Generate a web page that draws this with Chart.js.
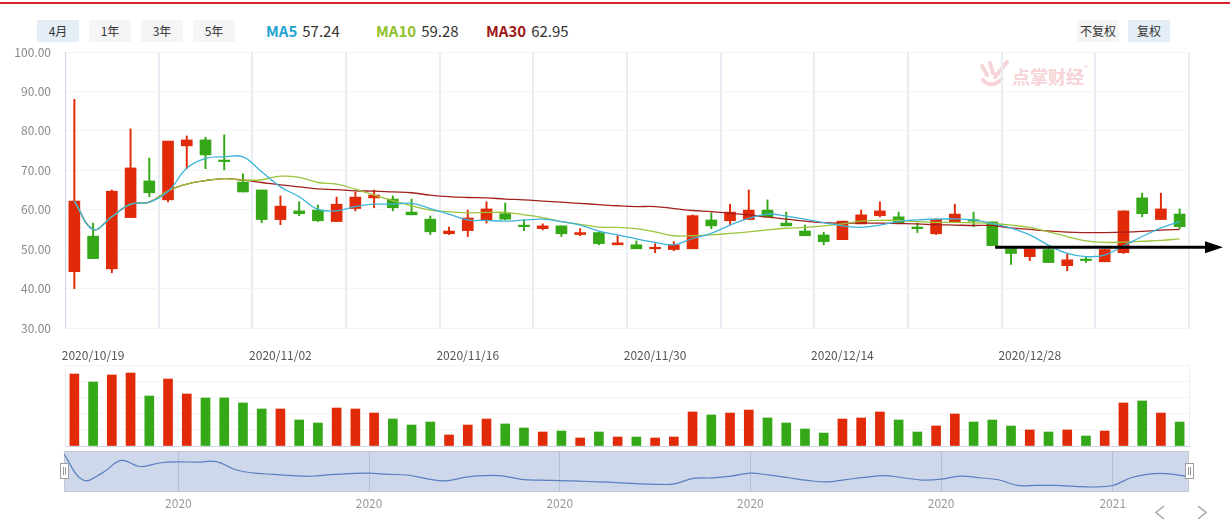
<!DOCTYPE html>
<html>
<head>
<meta charset="utf-8">
<script src="https://cdn.jsdelivr.net/npm/chart.js@4.4.1/dist/chart.umd.min.js"></script>
<style>
  body { margin:0; width:1230px; height:521px; overflow:hidden; background:#fff; position:relative;
         font-family:"Microsoft YaHei","Noto Sans CJK SC",sans-serif; }
  .topline { position:absolute; left:0; top:2px; width:1230px; height:2px; background:#d8232a; }
  .btn { position:absolute; top:20px; width:42px; height:22px; line-height:22px; text-align:center;
         font-size:12px; color:#333; background:#f5f5f5; }
  .btn.on { background:#e5edf7; }
  .ma { position:absolute; top:21px; font-size:15px; line-height:20px; color:#333; white-space:nowrap; }
  .ma b { font-weight:bold; margin-right:5px; }
  .wm { position:absolute; left:1012px; top:63px; font-size:18px; font-weight:bold; color:#f6d3d6; letter-spacing:0px; }
  .wm sup { font-size:8px; font-weight:normal; position:relative; top:-6px; }
  canvas { position:absolute; left:0; }
  .handle { position:absolute; top:463px; width:7px; height:14px; background:#fff; border:1px solid #a0a0a0; }
  .handle:after { content:""; position:absolute; left:2px; top:3px; width:1px; height:8px; border-left:1px solid #999; border-right:1px solid #999; }
</style>
</head>
<body>
<div class="topline"></div>
<div class="btn on" style="left:37px">4月</div>
<div class="btn" style="left:89px">1年</div>
<div class="btn" style="left:141px">3年</div>
<div class="btn" style="left:193px">5年</div>
<div id="legend"></div>
<div class="btn" style="left:1077px">不复权</div>
<div class="btn on" style="left:1128px">复权</div>

<svg style="position:absolute;left:978px;top:58px" width="36" height="32">
  <g fill="none" stroke="#f6d3d6" stroke-width="4" stroke-linecap="round">
    <path d="M4 8 L9 17"/><path d="M12 5 L15 15"/><path d="M29 4 L17 19"/><path d="M5 22 Q13 31 24 21"/>
  </g>
</svg>
<div class="wm">点掌财经<sup>®</sup></div>

<canvas id="main" width="1230" height="330" style="top:40px"></canvas>
<canvas id="vol" width="1230" height="90" style="top:360px"></canvas>
<canvas id="zoom" width="1230" height="73" style="top:448px"></canvas>
<div class="handle" style="left:60px"></div>
<div class="handle" style="left:1185px"></div>

<svg style="position:absolute;left:1150px;top:504px" width="70" height="17">
  <g fill="none" stroke="#aaa" stroke-width="1.6">
    <path d="M14 2 L6 8.5 L14 15"/><path d="M48 2 L56 8.5 L48 15"/>
  </g>
</svg>

<script>
const dates = [
  '2020/10/16','2020/10/19','2020/10/20','2020/10/21','2020/10/22','2020/10/23',
  '2020/10/26','2020/10/27','2020/10/28','2020/10/29','2020/10/30',
  '2020/11/02','2020/11/03','2020/11/04','2020/11/05','2020/11/06',
  '2020/11/09','2020/11/10','2020/11/11','2020/11/12','2020/11/13',
  '2020/11/16','2020/11/17','2020/11/18','2020/11/19','2020/11/20',
  '2020/11/23','2020/11/24','2020/11/25','2020/11/26','2020/11/27',
  '2020/11/30','2020/12/01','2020/12/02','2020/12/03','2020/12/04',
  '2020/12/07','2020/12/08','2020/12/09','2020/12/10','2020/12/11',
  '2020/12/14','2020/12/15','2020/12/16','2020/12/17','2020/12/18',
  '2020/12/21','2020/12/22','2020/12/23','2020/12/24','2020/12/25',
  '2020/12/28','2020/12/29','2020/12/30','2020/12/31',
  '2021/01/04','2021/01/05','2021/01/06','2021/01/07','2021/01/08'
];

const open  = [44.3,53.3,45.0,58.0,67.3,62.5,76.2,77.7,72.6,67.0, 65.0,57.5,59.7,59.9,57.0,60.3,63.0,62.7,59.4,57.6,
               53.9,54.7,57.4,59.0,56.1,55.2,55.9,53.7,54.2,51.1, 51.1,50.1,49.9,50.1,57.4,57.2,57.5,59.9,56.6,54.6,
               53.6,52.4,56.4,58.5,58.2,55.6,53.9,56.9,57.4,56.9, 50.1,48.1,49.9,45.8,47.3,46.8,49.1,63.0,57.5,58.9];
const close = [62.2,47.6,64.7,70.6,64.3,77.4,77.7,73.9,72.2,64.5, 57.5,60.9,59.0,57.2,61.4,63.2,63.7,60.5,58.7,54.4,
               54.6,57.9,60.2,57.6,55.7,55.9,53.9,54.2,51.4,51.6, 50.1,50.4,51.1,58.5,55.9,59.4,59.9,58.2,55.9,53.4,
               51.9,57.1,58.7,59.7,56.7,55.2,57.6,58.9,57.1,50.9, 48.9,50.1,46.6,47.3,47.1,49.9,59.7,59.0,60.2,55.7];
const low   = [40.0,47.6,44.0,58.0,63.3,62.0,70.4,70.4,70.1,64.5, 56.7,56.2,58.5,57.0,57.0,59.7,60.5,59.7,58.7,53.7,
               53.7,53.2,56.6,57.4,54.7,54.9,53.2,53.4,51.1,51.1, 50.1,49.1,49.6,50.1,55.2,56.2,57.5,58.2,55.9,53.4,
               51.1,52.4,56.4,58.2,56.7,54.2,53.7,56.9,55.7,50.9, 46.1,47.1,46.6,44.5,46.6,46.8,48.9,58.2,57.5,55.2];
const high  = [88.0,56.6,65.0,80.5,73.1,77.4,78.7,78.4,79.0,69.1, 65.0,63.5,62.0,61.2,63.2,64.5,65.0,63.5,62.7,58.4,
               55.6,59.9,62.0,61.7,57.4,56.4,55.9,55.2,54.4,53.4, 52.1,51.4,51.9,58.7,59.2,61.4,65.0,62.5,59.4,56.1,
               54.3,57.1,59.9,62.0,59.4,56.6,57.6,61.4,59.4,56.9, 50.1,50.1,50.1,48.9,48.1,49.9,59.7,64.2,64.2,60.2];

const ma5  = [62.2,55.0,58.2,61.4,61.9,64.6,70.5,73.0,73.4,73.4, 69.6,65.8,63.3,60.1,59.7,60.8,61.4,61.4,61.6,60.3,
              58.9,57.4,57.3,57.1,57.4,57.6,57.0,56.1,54.6,53.6, 52.6,51.7,51.1,52.7,54.0,56.1,57.8,58.9,58.4,57.6,
              56.7,55.9,55.5,56.1,57.0,57.4,57.6,57.7,57.4,56.5, 55.3,53.6,51.0,48.9,48.1,48.5,50.8,53.2,55.4,57.0];
const ma10 = [62.2,55.0,58.2,61.4,61.9,64.8,66.5,67.4,67.9,67.5, 67.6,68.5,68.2,66.9,66.5,65.2,63.7,62.3,61.0,59.9,
              59.5,59.2,59.3,59.3,58.7,58.0,57.0,56.3,55.6,55.5, 55.2,54.4,53.4,53.4,53.6,54.0,54.4,54.9,55.3,55.5,
              55.9,56.4,57.1,57.3,57.3,57.0,56.8,56.8,56.7,56.5, 56.1,55.5,54.4,53.2,52.1,51.7,51.8,52.0,52.2,52.6];
const ma30 = [62.2,55.0,58.2,61.4,61.9,64.8,66.5,67.4,67.9,67.5, 66.9,66.3,65.8,65.3,65.1,64.8,64.7,64.5,64.3,63.7,
              63.3,63.1,63.0,62.7,62.5,62.2,61.9,61.6,61.3,61.0, 60.8,60.8,60.3,59.8,59.5,59.1,58.7,58.1,57.6,57.1,
              56.7,56.6,56.6,56.6,56.5,56.4,56.2,56.1,56.0,56.0, 55.4,55.0,54.6,54.3,54.2,54.2,54.3,54.5,54.8,55.0];

const volume = [88.9,79.0,87.7,90.1,61.7,82.7,64.2,59.3,59.3,53.1, 45.7,45.7,32.1,28.4,46.9,45.7,40.7,33.3,25.9,29.6,
                13.6,25.9,33.3,27.2,22.2,17.3,18.5,9.9,17.3,11.1, 11.1,9.9,11.1,42.0,38.3,40.7,44.4,34.6,28.4,21.0,
                16.0,33.3,34.6,42.0,32.1,17.3,24.7,39.5,29.6,32.1, 24.7,19.8,17.3,19.8,12.3,18.5,53.1,55.6,40.7,29.6];

const maNames  = ['MA5', 'MA10', 'MA30'];
const maLatest = ['57.24', '59.28', '62.95'];
const priceTicks = [30, 40, 50, 60, 70, 80, 90, 100];
const dateLabelIdx = [1, 11, 21, 31, 41, 51];
const sliderYearIdx = [6, 16, 26, 36, 46, 55];
const arrowFrom = 49.15, arrowLevel = 50.5;

const UP = '#e02a08', DOWN = '#34a816';
const maColors = ['#3cb4da', '#9cc43c', '#a3201c'];
const maLabelColors = ['#1fa4d2', '#8fbf2a', '#a01616'];
const FONT = '"Microsoft YaHei","Noto Sans CJK SC",sans-serif';
Chart.defaults.font.family = FONT;
Chart.defaults.font.size = 12;

// header legend
const legendX = [266, 376, 486];
document.getElementById('legend').innerHTML = maNames.map((n, i) =>
  `<div class="ma" style="left:${legendX[i]}px"><b style="color:${maLabelColors[i]}">${n}</b>${maLatest[i]}</div>`).join('');

const colorOf = i => close[i] >= open[i] ? UP : DOWN;
const candleColors = dates.map((d, i) => colorOf(i));

const arrowPlugin = {
  id: 'arrow',
  afterDatasetsDraw(chart) {
    const { ctx, chartArea, scales: { x, y } } = chart;
    const x0 = x.getPixelForValue(arrowFrom);
    const yy = y.getPixelForValue(arrowLevel);
    const tip = chartArea.right + 34;
    ctx.save();
    ctx.strokeStyle = '#000';
    ctx.fillStyle = '#000';
    ctx.lineWidth = 3;
    ctx.beginPath(); ctx.moveTo(x0, yy); ctx.lineTo(tip - 14, yy); ctx.stroke();
    ctx.beginPath(); ctx.moveTo(tip - 18, yy - 6); ctx.lineTo(tip, yy); ctx.lineTo(tip - 18, yy + 6); ctx.closePath(); ctx.fill();
    ctx.restore();
  }
};

const edgeGrid = c => (c.type !== 'tick' ? '#e9eef4' : 'transparent');

new Chart(document.getElementById('main'), {
  type: 'bar',
  data: {
    labels: dates,
    datasets: [
      ...[ma5, ma10, ma30].map((d, i) => ({
        type: 'line', data: d, borderColor: maColors[i], borderWidth: 1.3,
        pointRadius: 0, tension: 0.4, order: 0
      })),
      { data: dates.map((d, i) => [open[i], close[i]]), backgroundColor: candleColors,
        barThickness: 11, minBarLength: 1.5, grouped: false, order: 1 },
      { data: dates.map((d, i) => [low[i], high[i]]), backgroundColor: candleColors,
        barThickness: 1.3, grouped: false, order: 2 }
    ]
  },
  options: {
    responsive: false, animation: false, devicePixelRatio: 1,
    layout: { padding: { top: 12, right: 41, left: 0, bottom: 0 } },
    plugins: { legend: { display: false }, tooltip: { enabled: false } },
    scales: {
      x: {
        offset: true,
        afterFit: s => { s.height = 42; },
        border: { display: false },
        grid: { offset: true, drawTicks: false, lineWidth: 2,
                color: c => (c.type !== 'tick' || (c.index % 5 === 0 && c.index > 0)) ? '#e8edf4' : 'transparent' },
        ticks: { autoSkip: false, maxRotation: 0, padding: 20, color: '#555',
                 callback: (v, i) => dateLabelIdx.includes(i) ? dates[i] : '' }
      },
      y: {
        min: 30, max: 100,
        afterFit: s => { s.width = 65; s.paddingTop = 0; s.paddingBottom = 0; },
        afterBuildTicks: s => { s.ticks = priceTicks.map(v => ({ value: v })); },
        border: { color: '#cbd7ea' },
        grid: { color: '#f4f4f4', drawTicks: false },
        ticks: { padding: 14, color: '#888', callback: v => v.toFixed(2) }
      }
    }
  },
  plugins: [arrowPlugin]
});

new Chart(document.getElementById('vol'), {
  type: 'bar',
  data: {
    labels: dates,
    datasets: [{ data: volume, backgroundColor: candleColors, barThickness: 9 }]
  },
  options: {
    responsive: false, animation: false, devicePixelRatio: 1,
    layout: { padding: { top: 5, right: 41, left: 0, bottom: 0 } },
    plugins: { legend: { display: false }, tooltip: { enabled: false } },
    scales: {
      x: {
        afterFit: s => { s.height = 4; },
        border: { color: '#c9d5e8' },
        grid: { offset: true, drawTicks: false, color: edgeGrid },
        ticks: { display: false }
      },
      y: {
        min: 0, max: 100,
        afterFit: s => { s.width = 65; s.paddingTop = 0; s.paddingBottom = 0; },
        border: { color: '#eceef1' },
        grid: { color: '#f4f4f4', drawTicks: false },
        ticks: { display: false, stepSize: 20 }
      }
    }
  }
});

const sliderBg = {
  id: 'sliderBg',
  beforeDraw(chart) {
    const { ctx, chartArea: a } = chart;
    ctx.save();
    ctx.fillStyle = '#cfd8ea';
    ctx.fillRect(a.left, a.top, a.width, a.height);
    ctx.strokeStyle = '#c4c9d2';
    ctx.lineWidth = 1;
    ctx.strokeRect(a.left + 0.5, a.top + 0.5, a.width - 1, a.height - 1);
    ctx.restore();
  }
};

new Chart(document.getElementById('zoom'), {
  type: 'line',
  data: {
    labels: dates,
    datasets: [{ data: high, borderColor: '#5a7fc2', borderWidth: 1.2, pointRadius: 0, tension: 0.4 }]
  },
  options: {
    responsive: false, animation: false, devicePixelRatio: 1,
    layout: { padding: { top: 3, right: 41, left: 64, bottom: 0 } },
    plugins: { legend: { display: false }, tooltip: { enabled: false } },
    scales: {
      x: {
        afterFit: s => { s.height = 29; },
        border: { display: false },
        grid: { drawTicks: false, color: c => (c.type === 'tick' && sliderYearIdx.includes(c.index)) ? '#b5c0d3' : 'transparent' },
        ticks: { autoSkip: false, maxRotation: 0, padding: 4, color: '#999',
                 callback: (v, i) => sliderYearIdx.includes(i) ? dates[i].slice(0, 4) : '' }
      },
      y: { display: false, min: 42, max: 92 }
    }
  },
  plugins: [sliderBg]
});
</script>
</body>
</html>
